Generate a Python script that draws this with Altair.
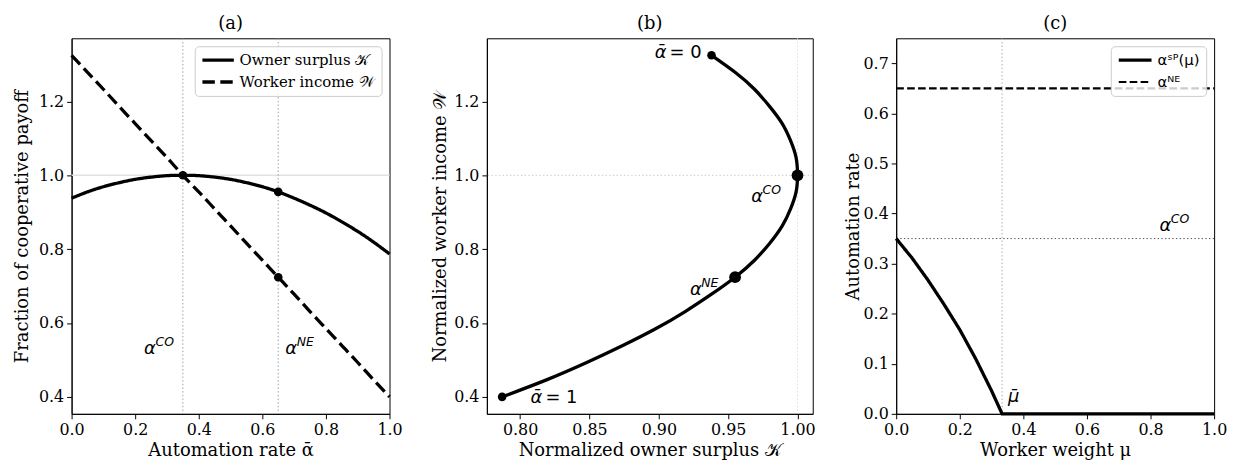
import altair as alt
import pandas as pd

# ---------------- data ----------------
alpha_grid = [0.00, 0.05, 0.10, 0.15, 0.20, 0.25, 0.30, 0.35, 0.40, 0.45, 0.50,
              0.55, 0.60, 0.65, 0.70, 0.75, 0.80, 0.85, 0.90, 0.95, 1.00]
owner_surplus = [0.938, 0.955, 0.969, 0.980, 0.989, 0.995, 0.999, 1.000, 0.999, 0.995, 0.989,
                 0.980, 0.969, 0.955, 0.938, 0.919, 0.898, 0.874, 0.848, 0.819, 0.787]
worker_income = [1.325, 1.279, 1.233, 1.186, 1.140, 1.094, 1.048, 1.000, 0.955, 0.909, 0.863,
                 0.816, 0.770, 0.724, 0.678, 0.631, 0.585, 0.539, 0.493, 0.446, 0.400]

ALPHA_CO = 0.35
ALPHA_NE = 0.65
K_CO, W_CO = 1.000, 1.000
K_NE, W_NE = 0.955, 0.724

mu_grid = [0.00, 0.05, 0.10, 0.15, 0.20, 0.25, 0.30, 0.333, 1.00]
alpha_sp = [0.350, 0.311, 0.267, 0.219, 0.168, 0.110, 0.046, 0.000, 0.000]
MU_BAR = 0.333
ne_mu = [0.0, 1.0]
ne_alpha = [0.65, 0.65]

SERIES_A = ["Owner surplus 𝒦", "Worker income 𝒲"]
SERIES_C = ["αˢᴾ(μ)", "αᴺᴱ"]

# annotation anchors (data coordinates)
ann_a_x = [0.228, 0.672]
ann_a_y = [0.517, 0.517]
ann_a_sup = ["CO", "NE"]
ann_b_end_k = [0.897, 0.8075]
ann_b_end_w = [1.317, 0.384]
ann_b_end_rhs = ["= 0", "= 1"]
ann_b_eq_k = [0.9666, 0.9224]
ann_b_eq_w = [0.927, 0.676]
ann_b_eq_sup = ["CO", "NE"]

SERIF = "DejaVu Serif"
MATH = "DejaVu Sans"
DOT = [1.4, 2.3]

a_ticks_x = [0.0, 0.2, 0.4, 0.6, 0.8, 1.0]
a_ticks_y = [0.4, 0.6, 0.8, 1.0, 1.2]
b_ticks_x = [0.80, 0.85, 0.90, 0.95, 1.00]
c_ticks_y = [0.0, 0.1, 0.2, 0.3, 0.4, 0.5, 0.6, 0.7]

Y_DOM = [0.354, 1.371]
PH = 378  # plot height of every panel


def axis(values, fmt, title_padding=None):
    kw = dict(values=values, format=fmt, labelFont=SERIF, labelFontSize=16,
              labelColor="black", labelPadding=3, labelFlush=False, labelOverlap=False,
              titleFont=SERIF, titleFontSize=18, titleFontWeight="normal",
              titleColor="black", tickColor="black", tickSize=5,
              domainColor="black", grid=False)
    if title_padding is not None:
        kw["titlePadding"] = title_padding
    return alt.Axis(**kw)


def legend(symbol_size, stroke_width=None, font=SERIF):
    kw = dict(orient="top-right", title=None, offset=8,
              fillColor="rgba(255,255,255,0.8)", strokeColor="#cccccc",
              cornerRadius=4, padding=6, labelFont=font, labelFontSize=15,
              labelColor="black", labelLimit=300, symbolType="stroke",
              symbolSize=symbol_size, symbolStrokeColor="black",
              clipHeight=16, rowPadding=6)
    if stroke_width is not None:
        kw["symbolStrokeWidth"] = stroke_width
    return alt.Legend(**kw)


# ---------------- panel (a) ----------------
df_a = pd.DataFrame({
    "alpha": alpha_grid + alpha_grid,
    "value": owner_surplus + worker_income,
    "series": [SERIES_A[0]] * len(alpha_grid) + [SERIES_A[1]] * len(alpha_grid),
})
xa = alt.X("alpha:Q", scale=alt.Scale(domain=[0, 1], nice=False, zero=False),
           axis=axis(a_ticks_x, ".1f"), title="Automation rate ᾱ")
ya = alt.Y("value:Q", scale=alt.Scale(domain=Y_DOM, nice=False, zero=False),
           axis=axis(a_ticks_y, ".1f", 7), title="Fraction of cooperative payoff")

a_hrule = alt.Chart(pd.DataFrame({"value": [1.0]})).mark_rule(
    color="#e2e2e2", strokeWidth=1.5).encode(y=alt.Y("value:Q"))
a_vrule = alt.Chart(pd.DataFrame({"alpha": [ALPHA_CO, ALPHA_NE]})).mark_rule(
    color="#9a9a9a", strokeWidth=1, strokeDash=DOT).encode(x=alt.X("alpha:Q"))
a_lines = alt.Chart(df_a).mark_line(color="black", strokeWidth=3.3, interpolate="natural").encode(
    x=xa, y=ya,
    strokeDash=alt.StrokeDash("series:N",
                              scale=alt.Scale(domain=SERIES_A, range=[[1, 0], [12.5, 5.5]]),
                              legend=legend(1000, 3.3)))
a_pts = alt.Chart(pd.DataFrame({"alpha": [ALPHA_CO, ALPHA_NE, ALPHA_NE],
                                "value": [1.0, K_NE, W_NE]})).mark_circle(
    color="black", opacity=1, size=75).encode(x="alpha:Q", y="value:Q")
df_ann_a = pd.DataFrame({"alpha": ann_a_x, "value": ann_a_y, "base": ["α", "α"], "sup": ann_a_sup})
a_txt1 = alt.Chart(df_ann_a).mark_text(align="left", baseline="alphabetic", font=MATH,
                                       fontStyle="italic", fontSize=18, color="black").encode(
    x="alpha:Q", y="value:Q", text="base:N")
a_txt2 = alt.Chart(df_ann_a).mark_text(align="left", baseline="alphabetic", font=MATH,
                                       fontStyle="italic", fontSize=12.5, color="black",
                                       dx=11.5, dy=-8).encode(
    x="alpha:Q", y="value:Q", text="sup:N")

panel_a = alt.layer(a_hrule, a_vrule, a_lines, a_pts, a_txt1, a_txt2).properties(
    width=320, height=PH, title="(a)")

# ---------------- panel (b) ----------------
df_b = pd.DataFrame({"k": owner_surplus, "w": worker_income, "alpha": alpha_grid})
xb = alt.X("k:Q", scale=alt.Scale(domain=[0.776, 1.011], nice=False, zero=False),
           axis=axis(b_ticks_x, ".2f"), title="Normalized owner surplus 𝒦")
yb = alt.Y("w:Q", scale=alt.Scale(domain=Y_DOM, nice=False, zero=False),
           axis=axis(a_ticks_y, ".1f", 4), title="Normalized worker income 𝒲")

b_hrule = alt.Chart(pd.DataFrame({"w": [W_CO]})).mark_rule(
    color="#c8c8c8", strokeWidth=1, strokeDash=DOT).encode(y=alt.Y("w:Q"))
b_vrule = alt.Chart(pd.DataFrame({"k": [K_CO]})).mark_rule(
    color="#dddddd", strokeWidth=1, strokeDash=DOT).encode(x=alt.X("k:Q"))
b_line = alt.Chart(df_b).mark_line(color="black", strokeWidth=3.3, interpolate="natural").encode(
    x=xb, y=yb, order="alpha:Q")
b_ends = alt.Chart(pd.DataFrame({"k": [owner_surplus[0], owner_surplus[-1]],
                                 "w": [worker_income[0], worker_income[-1]]})).mark_circle(
    color="black", opacity=1, size=75).encode(x="k:Q", y="w:Q")
b_eq = alt.Chart(pd.DataFrame({"k": [K_CO, K_NE], "w": [W_CO, W_NE]})).mark_circle(
    color="black", opacity=1, size=140).encode(x="k:Q", y="w:Q")
df_b_end = pd.DataFrame({"k": ann_b_end_k, "w": ann_b_end_w, "lhs": ["ᾱ", "ᾱ"], "rhs": ann_b_end_rhs})
b_end1 = alt.Chart(df_b_end).mark_text(align="left", baseline="alphabetic", font=MATH,
                                       fontStyle="italic", fontSize=18, color="black").encode(
    x="k:Q", y="w:Q", text="lhs:N")
b_end2 = alt.Chart(df_b_end).mark_text(align="left", baseline="alphabetic", font=MATH,
                                       fontSize=18, color="black", dx=15).encode(
    x="k:Q", y="w:Q", text="rhs:N")
df_b_eq = pd.DataFrame({"k": ann_b_eq_k, "w": ann_b_eq_w, "base": ["α", "α"], "sup": ann_b_eq_sup})
b_eq1 = alt.Chart(df_b_eq).mark_text(align="left", baseline="alphabetic", font=MATH,
                                     fontStyle="italic", fontSize=18, color="black").encode(
    x="k:Q", y="w:Q", text="base:N")
b_eq2 = alt.Chart(df_b_eq).mark_text(align="left", baseline="alphabetic", font=MATH,
                                     fontStyle="italic", fontSize=12.5, color="black",
                                     dx=11.5, dy=-8).encode(
    x="k:Q", y="w:Q", text="sup:N")

panel_b = alt.layer(b_hrule, b_vrule, b_line, b_ends, b_eq, b_end1, b_end2, b_eq1, b_eq2).properties(
    width=328, height=PH, title="(b)")

# ---------------- panel (c) ----------------
df_c = pd.DataFrame({
    "mu": mu_grid + ne_mu,
    "rate": alpha_sp + ne_alpha,
    "series": [SERIES_C[0]] * len(mu_grid) + [SERIES_C[1]] * len(ne_mu),
})
xc = alt.X("mu:Q", scale=alt.Scale(domain=[0, 1], nice=False, zero=False),
           axis=axis(a_ticks_x, ".1f"), title="Worker weight μ")
yc = alt.Y("rate:Q", scale=alt.Scale(domain=[0, 0.75], nice=False, zero=False),
           axis=axis(c_ticks_y, ".1f", 1), title="Automation rate")

c_vrule = alt.Chart(pd.DataFrame({"mu": [MU_BAR]})).mark_rule(
    color="#aaaaaa", strokeWidth=1, strokeDash=DOT).encode(x=alt.X("mu:Q"))
c_hrule = alt.Chart(pd.DataFrame({"rate": [ALPHA_CO]})).mark_rule(
    color="#555555", strokeWidth=1, strokeDash=DOT).encode(y=alt.Y("rate:Q"))
c_lines = alt.Chart(df_c).mark_line(color="black", interpolate="linear").encode(
    x=xc, y=yc,
    strokeDash=alt.StrokeDash("series:N",
                              scale=alt.Scale(domain=SERIES_C, range=[[1, 0], [7.7, 3.3]]),
                              legend=legend(1089, None, MATH)),
    strokeWidth=alt.StrokeWidth("series:N",
                                scale=alt.Scale(domain=SERIES_C, range=[3.3, 2.1]),
                                legend=legend(1089, None, MATH)))
df_ann_c = pd.DataFrame({"mu": [0.828], "rate": [0.365], "base": ["α"], "sup": ["CO"]})
c_txt1 = alt.Chart(df_ann_c).mark_text(align="left", baseline="alphabetic", font=MATH,
                                       fontStyle="italic", fontSize=18, color="black").encode(
    x="mu:Q", y="rate:Q", text="base:N")
c_txt2 = alt.Chart(df_ann_c).mark_text(align="left", baseline="alphabetic", font=MATH,
                                       fontStyle="italic", fontSize=12.5, color="black",
                                       dx=11.5, dy=-8).encode(
    x="mu:Q", y="rate:Q", text="sup:N")
c_mu = alt.Chart(pd.DataFrame({"mu": [0.352], "rate": [0.024], "t": ["μ\u0304"]})).mark_text(
    align="left", baseline="alphabetic", font=MATH, fontStyle="italic", fontSize=18,
    color="black").encode(x="mu:Q", y="rate:Q", text="t:N")

panel_c = alt.layer(c_vrule, c_hrule, c_lines, c_txt1, c_txt2, c_mu).properties(
    width=320, height=PH, title="(c)")

chart = alt.hconcat(panel_a, panel_b, panel_c, spacing=28).resolve_scale(
    strokeDash="independent", strokeWidth="independent"
).resolve_legend(
    strokeDash="independent", strokeWidth="independent"
).properties(
    padding={"left": 5, "top": 5, "right": 5, "bottom": 0}
).configure(
    font=SERIF,
    style={"guide-label": {"font": SERIF}, "guide-title": {"font": SERIF}}
).configure_view(
    stroke="black", strokeWidth=1
).configure_axis(
    labelFont=SERIF, titleFont=SERIF
).configure_title(
    font=SERIF, fontSize=18, fontWeight="normal", color="black", offset=5, anchor="middle"
)

chart.save("out.html", embed_options={"renderer": "svg", "actions": False})
